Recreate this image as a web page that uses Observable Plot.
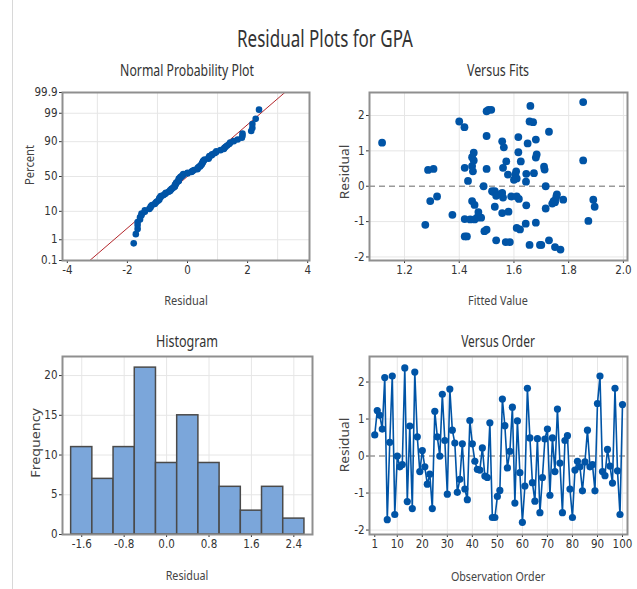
<!DOCTYPE html>
<html><head><meta charset="utf-8">
<script src="https://cdn.jsdelivr.net/npm/d3@7"></script>
<script src="https://cdn.jsdelivr.net/npm/@observablehq/plot@0.6"></script>
<style>
html,body{margin:0;padding:0;background:#fff;}
#chart{position:relative;width:637px;height:589px;overflow:hidden;background:#fff;}
#chart svg{position:absolute;left:0;top:0;}
.lbl{position:absolute;white-space:nowrap;line-height:1;}
#edge{position:absolute;left:12px;top:0;width:1px;height:589px;background:#d8d8d8;}
</style></head><body><div id="chart"><div id="edge"></div></div>
<script>
// ---- data ----
const residuals = [0.57, 1.23, 1.10, 0.73, 2.12, -1.72, 0.37, 2.16, -1.58, 0.00,
 -0.29, -0.23, 2.38, -1.23, 0.81, -1.42, 2.27, 0.52, -0.42, 0.15,
 -0.29, -0.76, -0.49, -1.42, 1.21, 0.52, 0.00, 1.67, 0.42, -1.03,
 1.81, 0.70, 0.35, -0.98, -0.63, 0.33, -0.89, -1.18, 0.96, 0.33,
 -0.14, -0.36, -0.38, 0.22, -0.54, -0.58, 0.90, -1.66, -1.66, -1.09,
 -0.93, 1.54, 0.82, -0.32, 0.13, 1.32, -1.27, 0.95, -0.45, -1.79,
 -0.81, 1.83, 0.49, -0.72, -1.22, 0.47, -1.53, -0.58, 0.46, 0.73,
 -1.06, 0.49, -0.42, 1.27, -0.19, -1.53, 0.42, 0.55, -0.89, -1.66,
 -0.38, -0.14, -0.29, -0.94, -0.16, 0.70, -0.29, -0.23, -0.94, 1.42,
 2.16, -0.42, -0.53, 0.18, -0.27, -0.73, 1.83, -0.40, -1.58, 1.39];
const fitted = [1.447, 1.118, 1.563, 1.853, 1.500, 1.750, 1.673, 1.507, 1.570, 1.489,
 1.590, 1.757, 1.853, 1.500, 1.680, 1.420, 1.660, 1.420, 1.447, 1.432,
 1.610, 1.557, 1.740, 1.428, 1.650, 1.560, 1.716, 1.419, 1.608, 1.680,
 1.670, 1.572, 1.645, 1.872, 1.716, 1.578, 1.480, 1.610, 1.616, 1.605,
 1.520, 1.618, 1.890, 1.610, 1.645, 1.530, 1.683, 1.657, 1.695, 1.276,
 1.420, 1.728, 1.447, 1.560, 1.644, 1.680, 1.492, 1.453, 1.750, 1.770,
 1.375, 1.400, 1.306, 1.580, 1.622, 1.712, 1.728, 1.895, 1.286, 1.453,
 1.643, 1.500, 1.294, 1.557, 1.557, 1.535, 1.450, 1.710, 1.465, 1.700,
 1.780, 1.530, 1.755, 1.456, 1.525, 1.625, 1.319, 1.540, 1.440, 1.500,
 1.517, 1.745, 1.456, 1.600, 1.535, 1.470, 1.657, 1.750, 1.585, 1.616];
const binCenters = [-1.6, -1.2, -0.8, -0.4, 0.0, 0.4, 0.8, 1.2, 1.6, 2.0, 2.4];
const binCounts  = [11, 7, 11, 21, 9, 15, 9, 6, 3, 6, 2];
const binWidth = 0.4;
const pctTicks = [0.1, 1, 10, 50, 90, 99, 99.9];
const pctLabels = ["0.1", "1", "10", "50", "90", "99", "99.9"];
const npX = [-4, -2, 0, 2, 4];
const npGrid = [-3, -1, 1, 3];
const fitXTicks = [1.2, 1.4, 1.6, 1.8, 2.0];
const resTicks = [-2, -1, 0, 1, 2];
const histXTicks = [-1.6, -0.8, 0.0, 0.8, 1.6, 2.4];
const histYTicks = [0, 5, 10, 15, 20];
const orderTicks = [1, 10, 20, 30, 40, 50, 60, 70, 80, 90, 100];

// inverse normal CDF (Acklam) for the probability scale
function probit(p){
 const a=[-3.969683028665376e+01,2.209460984245205e+02,-2.759285104469687e+02,1.383577518672690e+02,-3.066479806614716e+01,2.506628277459239e+00];
 const b=[-5.447609879822406e+01,1.615858368580409e+02,-1.556989798598866e+02,6.680131188771972e+01,-1.328068155288572e+01];
 const c=[-7.784894002430293e-03,-3.223964580411365e-01,-2.400758277161838e+00,-2.549732539343734e+00,4.374664141464968e+00,2.938163982698783e+00];
 const d=[7.784695709041462e-03,3.224671290700398e-01,2.445134137142996e+00,3.754408661907416e+00];
 const pl=0.02425, ph=1-pl; let q,r;
 if(p<pl){q=Math.sqrt(-2*Math.log(p));return (((((c[0]*q+c[1])*q+c[2])*q+c[3])*q+c[4])*q+c[5])/((((d[0]*q+d[1])*q+d[2])*q+d[3])*q+1);}
 if(p<=ph){q=p-0.5;r=q*q;return (((((a[0]*r+a[1])*r+a[2])*r+a[3])*r+a[4])*r+a[5])*q/(((((b[0]*r+b[1])*r+b[2])*r+b[3])*r+b[4])*r+1);}
 q=Math.sqrt(-2*Math.log(1-p));return -(((((c[0]*q+c[1])*q+c[2])*q+c[3])*q+c[4])*q+c[5])/((((d[0]*q+d[1])*q+d[2])*q+d[3])*q+1);
}

const W = 637, H = 589;
const BLUE = "#0054A6";
const tickFont = "'Liberation Sans Narrow','DejaVu Sans Condensed','Liberation Sans',sans-serif";
const chart = document.getElementById("chart");

function panel(f, x, y, marks){
  const svg = Plot.plot({
    width: W, height: H,
    marginLeft: f[0], marginRight: W - f[1], marginTop: f[2], marginBottom: H - f[3],
    x, y,
    style: {background: "transparent", fontFamily: tickFont, fontSize: "11.5px", color: "#333", overflow: "visible"},
    marks: [...marks, Plot.frame({stroke: "#8f8f8f", strokeWidth: 2})]
  });
  chart.appendChild(svg);
}
function axes(xt, xf, yt, yf, xg, yg){
  return [
    Plot.gridX(xg, {stroke: "#e6e6e6", strokeOpacity: 1}),
    Plot.gridY(yg, {stroke: "#e6e6e6", strokeOpacity: 1}),
    Plot.axisX(xt, {tickSize: 3, tickPadding: 2, tickFormat: xf, color: "#333", label: null}),
    Plot.axisY(yt, {tickSize: 3, tickPadding: 2, tickFormat: yf, color: "#333", label: null})
  ];
}

// Panel 1: normal probability plot
const n = residuals.length;
const sorted = residuals.slice().sort((a, b) => a - b);
const npData = sorted.map((r, i) => ({r, z: probit((i + 1 - 0.3) / (n + 0.4))}));
const mu = d3.mean(residuals), sd = d3.deviation(residuals);
const zLo = probit(0.001), zHi = probit(0.999);
const fitLine = [zLo, zHi].map(z => ({r: mu + sd * z, z}));
const zTicks = pctTicks.map(p => probit(p / 100));
const zLabel = new Map(zTicks.map((z, i) => [z, pctLabels[i]]));
panel([62, 309, 92, 260],
  {domain: [-4.16, 4.06]}, {domain: [zLo, zHi]},
  [
    ...axes(npX, d => String(d), zTicks, z => zLabel.get(z), npGrid, zTicks.slice(1, -1)),
    Plot.line(fitLine, {x: "r", y: "z", stroke: "#b3262b", strokeWidth: 1, clip: true}),
    Plot.dot(npData, {x: "r", y: "z", r: 3.3, fill: BLUE, stroke: "none"})
  ]);

// Panel 2: versus fits
const fitsData = residuals.map((r, i) => ({f: fitted[i], r}));
panel([369, 627, 92, 260],
  {domain: [1.072, 2.015]}, {domain: [-2.1, 2.65]},
  [
    ...axes(fitXTicks, d => d.toFixed(1), resTicks, d => String(d), fitXTicks, [-2, -1, 1, 2]),
    Plot.ruleY([0], {stroke: "#999", strokeWidth: 1.5, strokeDasharray: "6,4"}),
    Plot.dot(fitsData, {x: "f", y: "r", r: 3.9, fill: BLUE, stroke: "none"})
  ]);

// Panel 3: histogram
const histData = binCenters.map((c, i) => ({x1: c - binWidth / 2, x2: c + binWidth / 2, y: binCounts[i]}));
panel([62, 312, 356, 534],
  {domain: [-1.963, 2.752]}, {domain: [0, 22.4]},
  [
    ...axes(histXTicks, d => d.toFixed(1), histYTicks, d => String(d), histXTicks, histYTicks.slice(1)),
    Plot.rectY(histData, {x1: "x1", x2: "x2", y: "y", fill: "#7ba6da", stroke: "#4a4a4a", strokeWidth: 1.5})
  ]);

// Panel 4: versus order
const orderData = residuals.map((r, i) => ({o: i + 1, r}));
panel([369, 627, 356, 534],
  {domain: [-1.1, 102]}, {domain: [-2.12, 2.69]},
  [
    ...axes(orderTicks, d => String(d), resTicks, d => String(d), orderTicks.slice(1), [-2, -1, 1, 2]),
    Plot.ruleY([0], {stroke: "#999", strokeWidth: 1.5, strokeDasharray: "6,4"}),
    Plot.line(orderData, {x: "o", y: "r", stroke: BLUE, strokeWidth: 1.6}),
    Plot.dot(orderData, {x: "o", y: "r", r: 3.6, fill: BLUE, stroke: "none"})
  ]);

// ---- text (titles and axis labels) ----
const textFont = "'Noto Sans','Open Sans',sans-serif";
function label(txt, cx, cy, size, w, rot, color){
  const s = document.createElement("span");
  s.className = "lbl";
  s.textContent = txt;
  s.style.fontFamily = textFont;
  s.style.fontSize = size + "px";
  s.style.color = color || "#333";
  s.style.left = cx + "px";
  s.style.top = cy + "px";
  chart.appendChild(s);
  const k = w / s.offsetWidth;
  s.style.transform = "translate(-50%,-50%)" + (rot ? " rotate(-90deg)" : "") + " scaleX(" + k + ")";
}
label("Residual Plots for GPA", 325, 38, 23, 176);
label("Normal Probability Plot", 187, 70, 16, 134);
label("Versus Fits", 498, 70, 16, 62);
label("Histogram", 187, 341, 16, 62);
label("Versus Order", 498, 341, 16, 74);
label("Residual", 186, 300, 13, 44, false, "#444");
label("Fitted Value", 498, 300, 13, 60, false, "#444");
label("Residual", 187, 575, 13, 43, false, "#444");
label("Observation Order", 498, 576, 13, 94, false, "#444");
label("Percent", 30, 165, 12, 40, true, "#444");
label("Residual", 345, 172, 12, 55, true, "#444");
label("Frequency", 36, 443, 12, 70, true, "#444");
label("Residual", 345, 445, 12, 55, true, "#444");
</script></body></html>
